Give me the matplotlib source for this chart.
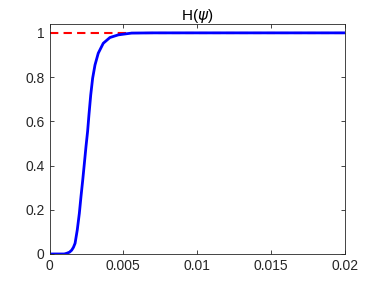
import matplotlib
matplotlib.use("Agg")
import matplotlib.pyplot as plt

# readings of the blue curve H(psi)
psi = [0.0, 0.00100, 0.00116, 0.00135, 0.00150, 0.00162, 0.00173, 0.00188, 0.00202,
       0.00213, 0.00225, 0.00236, 0.00247, 0.00258, 0.00267, 0.00279, 0.00292,
       0.00308, 0.00330, 0.00364, 0.00409, 0.00466, 0.00556, 0.0070, 0.0100,
       0.0150, 0.0200]
H = [0.0, 0.0, 0.003, 0.008, 0.017, 0.030, 0.048, 0.109, 0.184,
     0.259, 0.335, 0.410, 0.486, 0.555, 0.629, 0.719, 0.795,
     0.855, 0.908, 0.953, 0.979, 0.991, 0.999, 1.0, 1.0,
     1.0, 1.0]
ref_x = [0.0, 0.02]
ref_y = [1.0, 1.0]

xticks = [0, 0.005, 0.01, 0.015, 0.02]
xlabels = ["0", "0.005", "0.01", "0.015", "0.02"]
yticks = [0, 0.2, 0.4, 0.6, 0.8, 1]
ylabels = ["0", "0.2", "0.4", "0.6", "0.8", "1"]

plt.rcParams["font.family"] = ["Liberation Sans", "DejaVu Sans"]

fig = plt.figure(figsize=(3.82, 2.86), dpi=100)
ax = fig.add_axes([0.1296, 0.112, 0.7734, 0.804])
ax.plot(ref_x, ref_y, "--", color="#ff0000", linewidth=1.5, dashes=(4, 2.5))
ax.plot(psi, H, "-", color="#0000ff", linewidth=2)
ax.set_xlim(0, 0.02)
ax.set_ylim(0, 1.04)
ax.set_xticks(xticks)
ax.set_xticklabels(xlabels)
ax.set_yticks(yticks)
ax.set_yticklabels(ylabels)
ax.tick_params(direction="in", top=True, right=True, length=3, width=0.6,
               colors="#262626", labelsize=10)
for s in ax.spines.values():
    s.set_linewidth(0.6)
    s.set_color("#262626")
ax.set_title(r"H($\psi$)", fontsize=11, color="#000000", pad=3)
fig.savefig("out.png", dpi=100)
